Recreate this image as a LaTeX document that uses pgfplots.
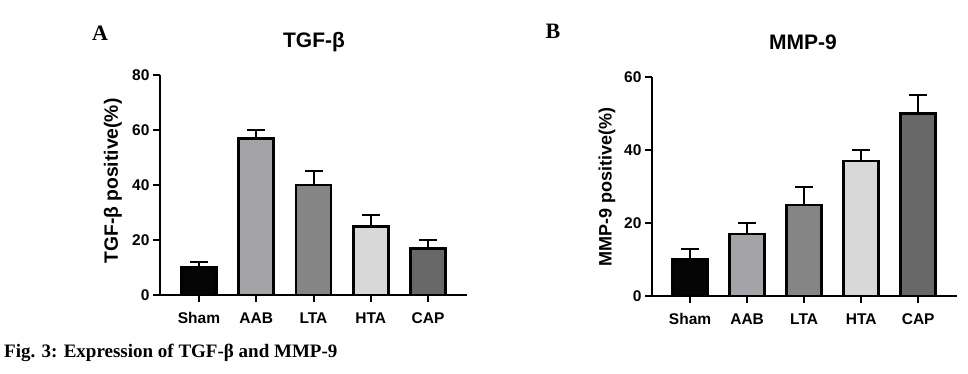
\documentclass[border=0pt]{standalone}
\usepackage{pgfplots}
\pgfplotsset{compat=1.18}
\usepackage{fontspec}
\setmainfont{Liberation Serif}
\setsansfont{Liberation Sans}
\definecolor{cSham}{HTML}{050505}
\definecolor{cAAB}{HTML}{A4A4A8}
\definecolor{cLTA}{HTML}{858585}
\definecolor{cHTA}{HTML}{D8D8D8}
\definecolor{cCAP}{HTML}{686868}
\newcommand{\tickfont}{\sffamily\bfseries\fontsize{15.5}{18}\selectfont}
\pgfplotsset{
 panel/.style={
  scale only axis, axis lines=left, axis line style={-, line width=2pt, black},
  xtick={0,...,4}, xticklabels={Sham,AAB,LTA,HTA,CAP},
  tick align=outside, major tick length=7pt, tick style={line width=2pt, black},
  ymin=0,
  xticklabel style={font=\tickfont, yshift=-7pt},
  yticklabel style={font=\tickfont},
  /pgf/number format/assume math mode=true,
  clip=false,
 },
 bbar/.style={ybar, bar shift=0pt, bar width=35pt, draw=black, line width=2.5pt, fill=#1,
   error bars/.cd, y dir=plus, y explicit, error mark=|, error bar style={line width=2pt, black},
   error mark options={line width=2pt, mark size=9pt, black}},
}
\begin{document}
\begin{tikzpicture}
\useasboundingbox (0,0) rectangle (968pt,373pt);
% Panel A
\begin{axis}[panel, at={(160pt,78pt)}, anchor=south west, width=307pt, height=220pt,
  xmin=-0.68, xmax=4.68, ymax=80, ytick={0,20,40,60,80}]
\addplot[bbar=cSham] coordinates {(0,10) +- (0,2)};
\addplot[bbar=cAAB] coordinates {(1,57) +- (0,3)};
\addplot[bbar=cLTA] coordinates {(2,40) +- (0,5)};
\addplot[bbar=cHTA] coordinates {(3,25) +- (0,4)};
\addplot[bbar=cCAP] coordinates {(4,17) +- (0,3)};
\end{axis}
% Panel B
\begin{axis}[panel, at={(652pt,77pt)}, anchor=south west, width=305pt, height=219pt,
  xmin=-0.667, xmax=4.68, ymax=60, ytick={0,20,40,60}]
\addplot[bbar=cSham] coordinates {(0,10) +- (0,3)};
\addplot[bbar=cAAB] coordinates {(1,17) +- (0,3)};
\addplot[bbar=cLTA] coordinates {(2,25) +- (0,5)};
\addplot[bbar=cHTA] coordinates {(3,37) +- (0,3)};
\addplot[bbar=cCAP] coordinates {(4,50) +- (0,5)};
\end{axis}
\node[font=\rmfamily\bfseries\fontsize{22}{26}\selectfont] at (100pt,340pt) {A};
\node[font=\rmfamily\bfseries\fontsize{22}{26}\selectfont] at (553pt,342pt) {B};
\node[font=\sffamily\bfseries\fontsize{21}{25}\selectfont] at (314pt,331pt) {TGF-β};
\node[font=\sffamily\bfseries\fontsize{21}{25}\selectfont] at (803pt,331pt) {MMP-9};
\node[rotate=90, font=\sffamily\bfseries\fontsize{19.3}{23}\selectfont] at (113pt,192pt) {TGF-β positive(\%)};
\node[rotate=90, font=\sffamily\bfseries\fontsize{18}{21}\selectfont] at (607pt,186pt) {MMP-9 positive(\%)};
\node[anchor=west, inner sep=0pt, font=\rmfamily\bfseries\fontsize{19}{22}\selectfont] at (4pt,20pt) {Fig. 3: Expression of TGF-β and MMP-9};
\end{tikzpicture}
\end{document}
